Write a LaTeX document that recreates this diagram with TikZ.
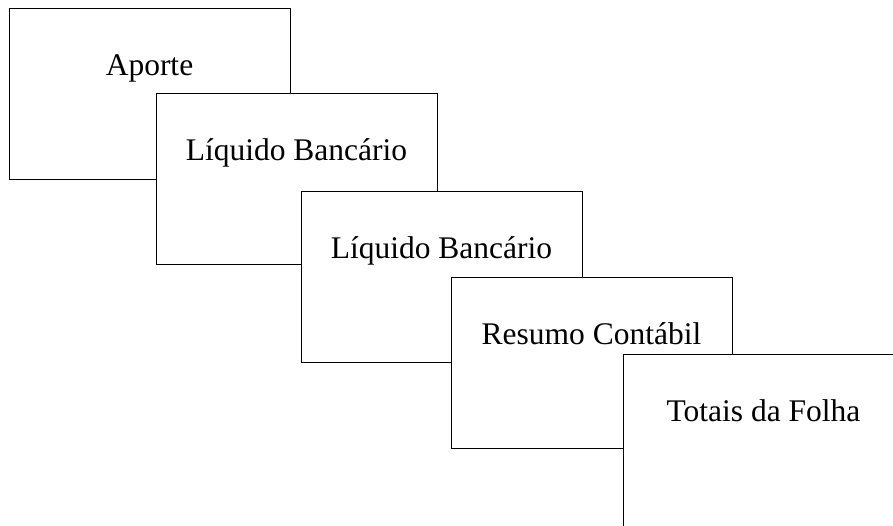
\documentclass[tikz,border=0pt]{standalone}
\usepackage{fontspec}
\setmainfont{Liberation Serif}
\begin{document}
\begin{tikzpicture}[x=1pt,y=-1pt,
  card/.style={draw=black, line width=0.9pt, fill=white, rectangle, anchor=north west,
    minimum width=281pt, minimum height=171pt, inner sep=0pt, outer sep=0pt},
  cardtext/.style={anchor=base, inner sep=0pt, font=\fontsize{31.5}{38}\selectfont}]
\useasboundingbox (0,0) rectangle (893,525);
\clip (0,0) rectangle (893,525);
\node[card] (b1) at (9,8) {};
\node[cardtext] (t1) at ([yshift=-67pt]b1.north) {Aporte};
\node[card] (b2) at (156,93) {};
\node[cardtext] (t2) at ([yshift=-67pt]b2.north) {Líquido Bancário};
\node[card] (b3) at (301,191) {};
\node[cardtext] (t3) at ([yshift=-67pt]b3.north) {Líquido Bancário};
\node[card] (b4) at (451,277) {};
\node[cardtext] (t4) at ([yshift=-67pt]b4.north) {Resumo Contábil};
\node[card, minimum height=176pt] (b5) at (623,354) {};
\node[cardtext] (t5) at ([xshift=140.5pt,yshift=-67pt]b5.north west) {Totais da Folha};
\end{tikzpicture}
\end{document}
